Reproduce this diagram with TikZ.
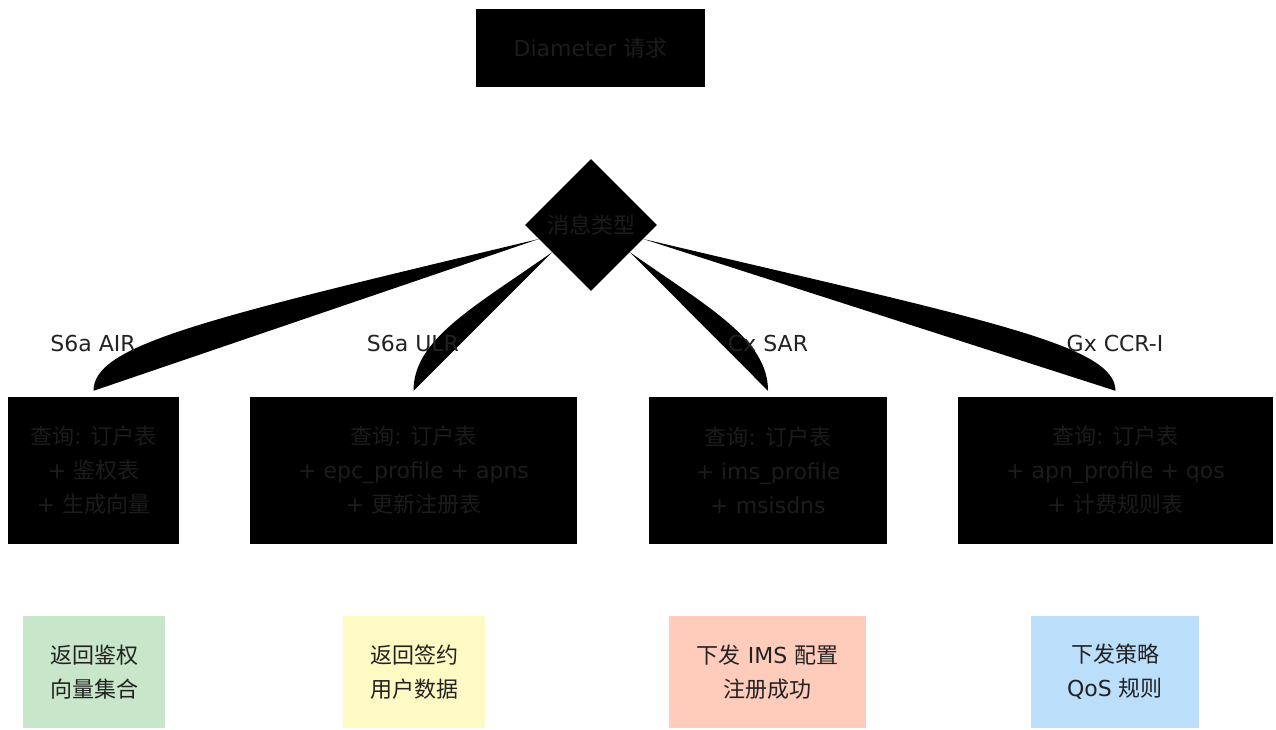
\documentclass[tikz,border=0pt]{standalone}
\usepackage{fontspec}
\setmainfont{DejaVu Sans}
\newfontfamily\cjk{Noto Sans CJK SC}
\newcommand{\zh}[1]{{\cjk #1}}
\usetikzlibrary{shapes.geometric}
\definecolor{ink}{HTML}{222222}
\definecolor{dim}{HTML}{1C1C1C}
\definecolor{airbg}{HTML}{C8E6C9}
\definecolor{ulrbg}{HTML}{FFF9C4}
\definecolor{sarbg}{HTML}{FFCCBC}
\definecolor{ccrbg}{HTML}{BBDEFB}
\begin{document}
\begin{tikzpicture}[x=1pt,y=-1pt,font=\fontsize{22}{34}\selectfont,
	blk/.style={fill=black,text=dim,align=center,inner sep=0pt},
	res/.style={text=ink,align=center,inner sep=0pt,minimum height=112},
	lbl/.style={text=ink,inner sep=0pt}]
	\useasboundingbox (0,0) rectangle (1276,729);
	% request and decision
	\node[blk,minimum width=229,minimum height=78] (req) at (590.5,48) {Diameter \zh{请求}};
	\node[blk,diamond,minimum width=132,minimum height=132] (type) at (591,225) {\zh{消息类型}};
	% lookups
	\node[blk,minimum width=171,minimum height=147] (air) at (93.5,470.5)
		{\zh{查询}: \zh{订户表}\\+ \zh{鉴权表}\\+ \zh{生成向量}};
	\node[blk,minimum width=327,minimum height=147] (ulr) at (413.5,470.5)
		{\zh{查询}: \zh{订户表}\\+ epc\_profile + apns\\+ \zh{更新注册表}};
	\node[blk,minimum width=238,minimum height=147] (sar) at (768,470.5)
		{\zh{查询}: \zh{订户表}\\+ ims\_profile\\+ msisdns};
	\node[blk,minimum width=315,minimum height=147] (ccr) at (1115.5,470.5)
		{\zh{查询}: \zh{订户表}\\+ apn\_profile + qos\\+ \zh{计费规则表}};
	% results
	\node[res,fill=airbg,minimum width=142] (rair) at (94,672) {\zh{返回鉴权}\\\zh{向量集合}};
	\node[res,fill=ulrbg,minimum width=142] (rulr) at (414,672) {\zh{返回签约}\\\zh{用户数据}};
	\node[res,fill=sarbg,minimum width=197] (rsar) at (767.5,672) {\zh{下发} IMS \zh{配置}\\\zh{注册成功}};
	\node[res,fill=ccrbg,minimum width=168] (rccr) at (1115,672) {\zh{下发策略}\\QoS \zh{规则}};
	% branches
	\foreach \ang/\tgt/\dx/\dy/\ey in {195/air/-335/80/-46,215/ulr/-80/56/-51,325/sar/80/56/-51,345/ccr/343/81/-46}{
		\fill (type.\ang) .. controls +(\dx,\dy) and +(0,\ey) .. ([yshift=6pt]\tgt.north) -- cycle;
	}
	\node[lbl] (lair) at (93,343) {S6a AIR};
	\node[lbl] (lulr) at (413,343) {S6a ULR};
	\node[lbl] (lsar) at (768,343) {Cx SAR};
	\node[lbl] (lccr) at (1115,343) {Gx CCR-I};
\end{tikzpicture}
\end{document}
